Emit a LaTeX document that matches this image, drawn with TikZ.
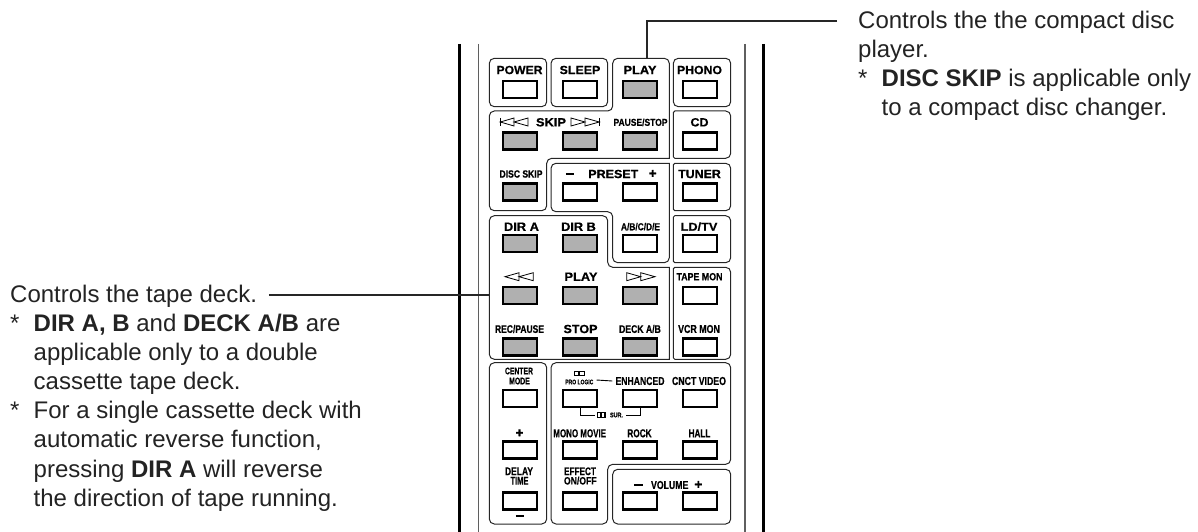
\documentclass[tikz,border=0pt]{standalone}
\usepackage{fontspec}
\setmainfont{Liberation Sans}
\newfontfamily\keyfont{Liberation Sans}[BoldFeatures={FakeBold=0.6}]
\usepackage{xcolor}
\definecolor{keygray}{RGB}{176,176,176}
\definecolor{casegray}{RGB}{95,95,95}
\definecolor{notetext}{RGB}{35,35,35}
\newcommand{\keylabel}[3]{\resizebox{#1pt}{#2pt}{\keyfont\bfseries #3}}
\tikzset{
  keybtn/.style={draw=black, line width=2.1pt, fill=white, minimum width=34.6pt, minimum height=17pt, inner sep=0pt},
  keylbl/.style={inner sep=0pt, text=black},
  groupline/.style={draw=black!85, line width=1pt},
  casethick/.style={draw=black, line width=2.4pt},
  casethin/.style={draw=casegray, line width=1.3pt},
  leader/.style={draw=black!85, line width=2pt},
  noteline/.style={font=\fontsize{24}{29.2}\selectfont, text=notetext, inner sep=0pt},
  notehead/.style={noteline, text height=15pt, text depth=0pt},
  notebody/.style={noteline, anchor=north west, align=left},
  arrowlbl/.style={draw=black, line width=0.8pt, line join=miter},
}
\begin{document}
\begin{tikzpicture}[x=1pt,y=-1pt]
\useasboundingbox (0,0) rectangle (1198,532);
% remote control case
\draw[casethick] (459.3,44) -- (459.3,532);
\draw[casethick] (763.3,44) -- (763.3,532);
\draw[casethin] (478.3,44) -- (478.3,532);
\draw[casethin] (745,44) -- (745,532);
% key groups
\draw[groupline, rounded corners=5] (489.3,58.3) rectangle (546.7,106.7);
\draw[groupline, rounded corners=5] (551,58.3) rectangle (607.7,106.7);
\draw[groupline, rounded corners=5] (673.3,58.3) rectangle (730.7,106.7);
\draw[groupline, rounded corners=5] (489.3,362.7) rectangle (546.7,524);
\draw[groupline, rounded corners=5] (612.7,469.3) rectangle (730.7,524);
\draw[groupline, rounded corners=5] (489.3,150) -- (489.3,111) -- (612.7,111) -- (612.7,58.3) -- (669.3,58.3) [sharp corners] -- (669.3,158.3) [rounded corners=5] -- (546.7,158.3) -- (546.7,210.7) -- (489.3,210.7) -- cycle;
\draw[groupline] (551,190) [rounded corners=5] -- (551,163.3) [sharp corners] -- (669.3,163.3) [rounded corners=5] -- (669.3,262.7) -- (612.7,262.7) -- (612.7,211.7) -- (551,211.7) -- cycle;
\draw[groupline, rounded corners=5] (489.3,300) -- (489.3,215.7) -- (607.7,215.7) -- (607.7,267.3) [sharp corners] -- (669.3,267.3) -- (669.3,359.3) [rounded corners=5] -- (489.3,359.3) -- cycle;
\draw[groupline, rounded corners=5] (551,420) -- (551,362.7) -- (730.7,362.7) -- (730.7,464.3) -- (607.7,464.3) -- (607.7,524) -- (551,524) -- cycle;
\foreach \ya/\yb in {111/158.3,163.3/210.7,215.7/262.7,267.3/359.3}
  \draw[groupline] (673.3,\ya+10) [rounded corners=1.5] -- (673.3,\ya) [rounded corners=5] -- (730.7,\ya) -- (730.7,\yb) [rounded corners=1.5] -- (673.3,\yb) -- cycle;
% keys
\foreach \r/\y in {1/89.5,2/141,3/192,4/243.5,5/295.3,6/347,7/398.5,8/450,9/501}
  \foreach \c/\x in {1/520,2/580,3/640,4/700}
    \node[keybtn] (b\r\c) at (\x,\y) {};
\foreach \k in {13,21,22,23,31,41,42,51,52,53,61,62,63}
  \node[keybtn, fill=keygray] (g\k) at (b\k) {};
% key labels: name/x/y/width/height/text
\foreach \n/\x/\y/\w/\h/\t in {
  power/519.5/70/46/8.3/POWER, sleep/580/70/40.7/8.3/SLEEP, play/640/70/33/8.3/PLAY, phono/699.5/70/45/8.3/PHONO,
  skip/551/122.3/30/8.3/SKIP, pause/640.5/122.3/54/7.3/{PAUSE/STOP}, cd/699.5/122.3/18/8.3/CD,
  discskip/521/174/43/7.3/DISC SKIP, preset/613.3/174/50/8.3/PRESET, tuner/699.5/174/42.7/8.3/TUNER,
  dira/521.5/226.7/35/8.3/DIR A, dirb/578.5/226.7/34.7/8.3/DIR B, abcde/640.5/226.7/39/7.3/{A/B/C/D/E}, ldtv/699/226.7/36.7/8.3/{LD/TV},
  playb/581/276.7/33/8.3/PLAY, tapemon/699.5/276.7/46/7.3/TAPE MON,
  recpause/519.5/329/49/8/{REC/PAUSE}, stop/580.5/329/34/8.3/STOP, deckab/640/329/41.7/8/{DECK A/B}, vcrmon/699/329/41.7/8/VCR MON,
  center/519/371/28/6.7/CENTER, mode/519.5/381/20.7/6.7/MODE,
  prologic/579.3/382/28/4.6/PRO LOGIC, enhanced/640/381/49/8/ENHANCED, cnct/699/381/54/8/CNCT VIDEO,
  mono/579.7/433.3/52.7/8/MONO MOVIE, rock/639.5/433.3/24.3/8/ROCK, hall/699.5/433.3/21.7/8/HALL, plus/519.5/433.3/8/8/+,
  delay/519/471.3/28/7.7/DELAY, time/519.5/480.7/18/7.7/TIME, effect/580/471.3/31.7/7.7/EFFECT, onoff/580.3/480.7/32.7/7.7/{ON/OFF},
  volume/669.7/485/37.3/8/VOLUME, presetp/652.7/174/8/8/+, volumep/698.3/485/8/8/+}
  \node[keylbl] (l\n) at (\x,\y) {\keylabel{\w}{\h}{\t}};
\foreach \n/\x/\y in {presetm/570/174, volumem/638.3/485, delaym/520/516}
  \node[keylbl] (l\n) at (\x,\y) {\rule{8.5pt}{1.7pt}};
% skip and wind symbols
\draw[arrowlbl] (500.3,118) -- (500.3,126);
\draw[arrowlbl] (514,118) -- (500.3,122) -- (514,126) -- cycle;
\draw[arrowlbl] (528,118) -- (514,122) -- (528,126) -- cycle;
\draw[arrowlbl] (599.3,118) -- (599.3,126);
\draw[arrowlbl] (585,118) -- (599.3,122) -- (585,126) -- cycle;
\draw[arrowlbl] (571,118) -- (585,122) -- (571,126) -- cycle;
\draw[arrowlbl] (519,272.7) -- (505,276.7) -- (519,280.7) -- cycle;
\draw[arrowlbl] (533.3,272.7) -- (519,276.7) -- (533.3,280.7) -- cycle;
\draw[arrowlbl] (626.7,272.7) -- (640.7,276.7) -- (626.7,280.7) -- cycle;
\draw[arrowlbl] (640.7,272.7) -- (655,276.7) -- (640.7,280.7) -- cycle;
% surround marks
\node[keylbl, inner xsep=3pt] (lsur) at (610.5,415) {\hspace{12pt}\keylabel{13}{4.6}{SUR.}};
\draw[draw=black, line width=0.9pt] (b72.south) |- (lsur.west);
\draw[draw=black, line width=0.9pt] (b73.south) |- (lsur.east);
\draw[draw=black, line width=0.9pt] (lprologic.east) ++(3,-2) -- ([xshift=-3pt]lenhanced.west);
\draw[line width=1.1pt] (574.6,371.2) rectangle (579,375.8) (579.7,371.2) rectangle (584.1,375.8);
\draw[line width=1.1pt] (597.8,412.7) rectangle (601,417.3) (601.8,412.7) rectangle (605,417.3);
% notes
\node[notehead, anchor=west] (tapehead) at (10,294.5) {Controls the tape deck.};
\node[notebody] (tapenote) at (10,313.5) {\makebox[23.5pt][l]{*}\textbf{DIR A, B} and \textbf{DECK A/B} are\\
  \hspace*{23.5pt}applicable only to a double\\
  \hspace*{23.5pt}cassette tape deck.\\
  \makebox[23.5pt][l]{*}For a single cassette deck with\\
  \hspace*{23.5pt}automatic reverse function,\\
  \hspace*{23.5pt}pressing \textbf{DIR A} will reverse\\
  \hspace*{23.5pt}the direction of tape running.};
\node[notehead, anchor=west] (cdhead) at (858,20.7) {Controls the the compact disc};
\node[notebody] (cdnote) at (858,39.5) {player.\\
  \makebox[23.5pt][l]{*}\textbf{DISC SKIP} is applicable only\\
  \hspace*{23.5pt}to a compact disc changer.};
% leaders
\coordinate (dirside) at (489.3,294.5);
\coordinate (playtop) at (646.7,58.3);
\draw[leader, shorten <=11.7pt] (tapehead.east) -- (tapehead.east -| dirside);
\draw[leader, shorten <=21pt] (cdhead.west) -| (playtop);
\end{tikzpicture}
\end{document}
